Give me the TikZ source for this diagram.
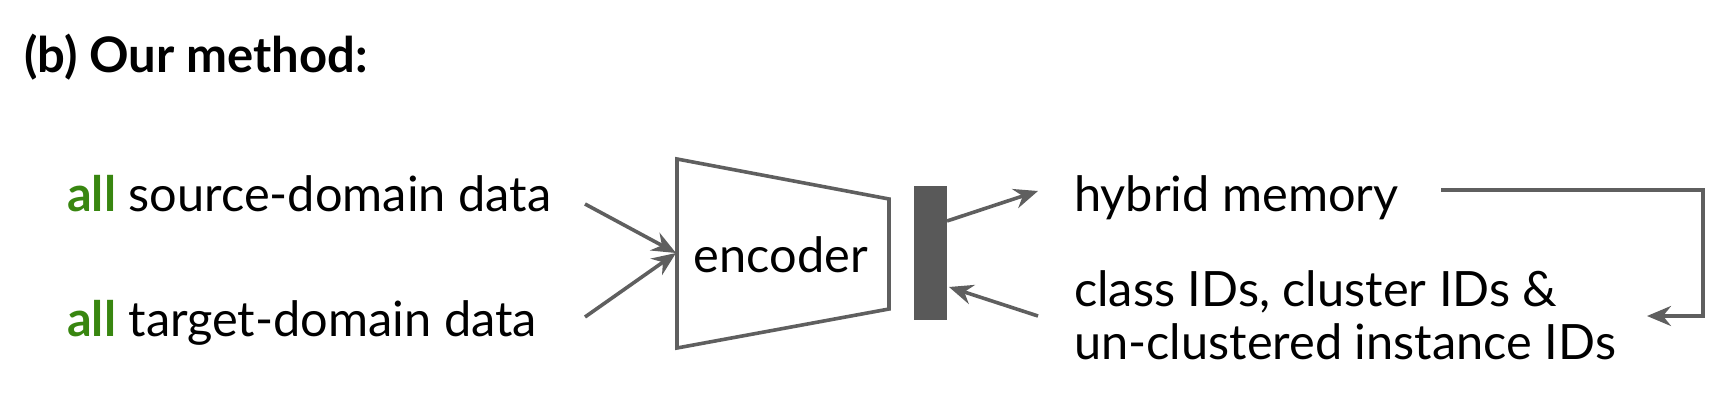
\documentclass[tikz,border=0pt]{standalone}
\usepackage{fontspec}
\setmainfont{Lato}
\usetikzlibrary{arrows.meta}
\definecolor{linegray}{RGB}{95,95,95}
\definecolor{bargray}{RGB}{89,89,89}
\definecolor{allgreen}{RGB}{56,134,16}
\begin{document}
\begin{tikzpicture}[x=1pt,y=-1pt,
  conn/.style={draw=linegray, line width=3.6pt},
  arr/.style={conn, -{Stealth[length=24pt,width=20pt,inset=8pt]}},
  lbl/.style={inner sep=0pt, anchor=base west, font=\fontsize{48.7}{56}\selectfont},
]
\useasboundingbox (0,0) rectangle (1733,404);
\node[anchor=base west, inner sep=0pt, font=\fontsize{49}{56}\selectfont\bfseries] (title) at (24,73) {(b) Our method:};
\node[lbl] (src) at (67,211) {\textcolor{allgreen}{\textbf{all}} source-domain data};
\node[lbl] (tgt) at (67,336) {\textcolor{allgreen}{\textbf{all}} target-domain data};
\coordinate (e1) at (677,159);
\coordinate (e2) at (889,199);
\coordinate (e3) at (889,309);
\coordinate (e4) at (677,348);
\draw[conn, line join=miter] (e1) -- (e2) -- (e3) -- (e4) -- cycle;
\node[lbl, anchor=base] (enc) at (781,272) {encoder};
\coordinate (ein) at (676,253);
\coordinate (s0) at (585,204);
\coordinate (t0) at (585,317);
\draw[arr] (s0) -- (ein);
\draw[arr] (t0) -- (ein);
\node[fill=bargray, minimum width=33pt, minimum height=134pt, inner sep=0pt] (bar) at (930.5,253) {};
\node[lbl] (mem) at (1074,211) {hybrid memory};
\node[lbl] (ids) at (1074,306) {class IDs, cluster IDs \&};
\node[lbl] (ids2) at (1074,359) {un-clustered instance IDs};
\coordinate (b1) at (947,221);
\coordinate (m0) at (1038,191);
\coordinate (c0) at (1038,316);
\coordinate (b2) at (949,287);
\draw[arr] (b1) -- (m0);
\draw[arr] (c0) -- (b2);
\coordinate (m1) at (1441,190);
\coordinate (r1) at (1703,190);
\coordinate (c1) at (1647,316);
\draw[arr, line join=miter] (m1) -- (r1) |- (c1);
\end{tikzpicture}
\end{document}
